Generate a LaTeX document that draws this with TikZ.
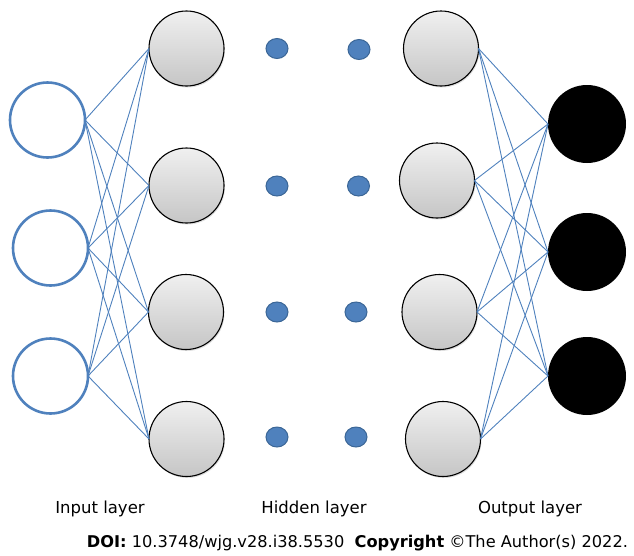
\documentclass[tikz,border=0pt]{standalone}
\usepackage{fontspec}
\setmainfont{DejaVu Sans}
\usetikzlibrary{shapes.geometric,shadows}
\definecolor{nnblue}{HTML}{4F81BD}
\definecolor{dotedge}{HTML}{3B6696}
\tikzset{
  inputnode/.style={circle,draw=nnblue,line width=2.6pt,fill=white,minimum size=75pt,inner sep=0pt,outer sep=0pt},
  hiddennode/.style={circle,draw=black,line width=1.1pt,top color=gray!12,bottom color=gray!45,minimum size=75pt,inner sep=0pt,outer sep=0pt,
     drop shadow={shadow xshift=1pt,shadow yshift=-1.5pt,opacity=0.25}},
  outputnode/.style={circle,fill=black,minimum size=78pt,inner sep=0pt,outer sep=0pt},
  dotnode/.style={ellipse,draw=dotedge,line width=1pt,fill=nnblue,minimum width=22pt,minimum height=20pt,inner sep=0pt},
  link/.style={draw=nnblue,line width=0.9pt},
  lbl/.style={font=\fontsize{16.5}{19}\selectfont,inner sep=0pt}
}
\begin{document}
\begin{tikzpicture}[x=1pt,y=-1pt]
\useasboundingbox (0,0) rectangle (634,555);
% input layer
\node[inputnode] (i1) at (47.5,120) {};
\node[inputnode] (i2) at (50.5,248) {};
\node[inputnode] (i3) at (50.5,376) {};
% first hidden column
\node[hiddennode] (a1) at (186.5,48.5) {};
\node[hiddennode] (a2) at (186.5,185.5) {};
\node[hiddennode] (a3) at (186,312) {};
\node[hiddennode] (a4) at (186.5,439) {};
% dots
\node[dotnode] (d11) at (277,48.5) {};
\node[dotnode] (d12) at (277,186) {};
\node[dotnode] (d13) at (277,312) {};
\node[dotnode] (d14) at (277,437) {};
\node[dotnode] (d21) at (359,49.5) {};
\node[dotnode] (d22) at (358.5,186) {};
\node[dotnode] (d23) at (356,312) {};
\node[dotnode] (d24) at (356,437) {};
% second hidden column
\node[hiddennode] (b1) at (441,48.5) {};
\node[hiddennode] (b2) at (437,180.5) {};
\node[hiddennode] (b3) at (439.5,312) {};
\node[hiddennode] (b4) at (443,439) {};
% output layer
\node[outputnode] (o1) at (587,124) {};
\node[outputnode] (o2) at (587,252) {};
\node[outputnode] (o3) at (587,376) {};
% links
\foreach \s in {i1,i2,i3}{
  \foreach \t in {a1,a2,a3,a4}{
    \draw[link] (\s.east) -- (\t.west);
  }
}
\foreach \s in {b1,b2,b3,b4}{
  \foreach \t in {o1,o2,o3}{
    \draw[link] (\s.east) -- (\t.west);
  }
}
% labels
\node[lbl] (l1) at (100,509) {Input layer};
\node[lbl] (l2) at (314,509) {Hidden layer};
\node[lbl] (l3) at (530,509) {Output layer};
\node[lbl,font=\fontsize{16.2}{18}\selectfont] (doi) at (357.5,543) {\textbf{DOI:} 10.3748/wjg.v28.i38.5530\ \ \textbf{Copyright} ©The Author(s) 2022.};
\end{tikzpicture}
\end{document}
